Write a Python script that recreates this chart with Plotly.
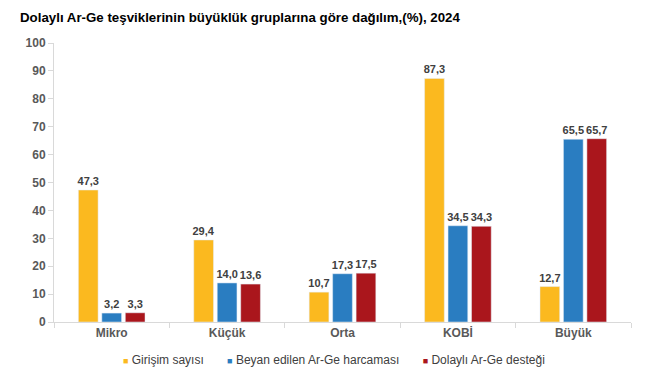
import plotly.graph_objects as go

categories = ["Mikro", "Küçük", "Orta", "KOBİ", "Büyük"]
girisim = [47.3, 29.4, 10.7, 87.3, 12.7]
beyan = [3.2, 14.0, 17.3, 34.5, 65.5]
destek = [3.3, 13.6, 17.5, 34.3, 65.7]
series_names = ["Girişim sayısı", "Beyan edilen Ar-Ge harcaması", "Dolaylı Ar-Ge desteği"]
colors = ["#FBB91F", "#2A7DC1", "#AA161C"]

fig = go.Figure()
for name, vals, col in zip(series_names, [girisim, beyan, destek], colors):
    fig.add_trace(go.Bar(
        x=categories, y=vals, name=name, marker_color=col,
        texttemplate="%{y:.1f}", textposition="outside", cliponaxis=False,
        constraintext="none", showlegend=False,
        textfont=dict(family="Liberation Sans, Arial", size=11, color="#404040", weight="bold"),
    ))

legend_text = "       ".join(
    f"<span style='color:{c}; font-size:9px'>■</span> {n}" for n, c in zip(series_names, colors)
)
fig.add_annotation(text=legend_text, xref="paper", yref="paper", x=(334 - 54) / (631 - 54),
                   xanchor="center", y=-(360 - 322) / (322 - 43), yanchor="middle", showarrow=False,
                   font=dict(family="Liberation Sans, Arial", size=12, color="#404040"))

fig.update_layout(
    width=656, height=384,
    margin=dict(l=54, r=25, t=43, b=62, autoexpand=False),
    paper_bgcolor="white", plot_bgcolor="white",
    separators=",.",
    barmode="group", bargap=0.39, bargroupgap=0.16,
    title=dict(text="<b>Dolaylı Ar-Ge teşviklerinin büyüklük gruplarına göre dağılım,(%), 2024</b>",
               x=20/656, xanchor="left", y=1-17/384, yanchor="middle",
               font=dict(family="Liberation Sans, Arial", size=13.3, color="#000000")),
    font=dict(family="Liberation Sans, Arial", color="#595959"),
    showlegend=False,
    xaxis=dict(showline=True, linecolor="#D9D9D9", ticks="outside", tickson="boundaries",
               tickcolor="#D9D9D9", ticklen=5, automargin=False,
               tickfont=dict(size=12, color="#595959", weight="bold")),
    yaxis=dict(range=[0, 100], dtick=10, showgrid=False, showline=True, linecolor="#D9D9D9",
               ticks="outside", tickcolor="#D9D9D9", ticklen=5, zeroline=False, automargin=False,
               tickfont=dict(size=12, color="#595959", weight="bold")),
)

fig.write_html("out.html", config={"displayModeBar": False})
with open("out.html", encoding="utf-8") as f:
    html = f.read()
html = html.replace("<body>", "<body style=\"margin:0;padding:0;overflow:hidden\">", 1)
with open("out.html", "w", encoding="utf-8") as f:
    f.write(html)
